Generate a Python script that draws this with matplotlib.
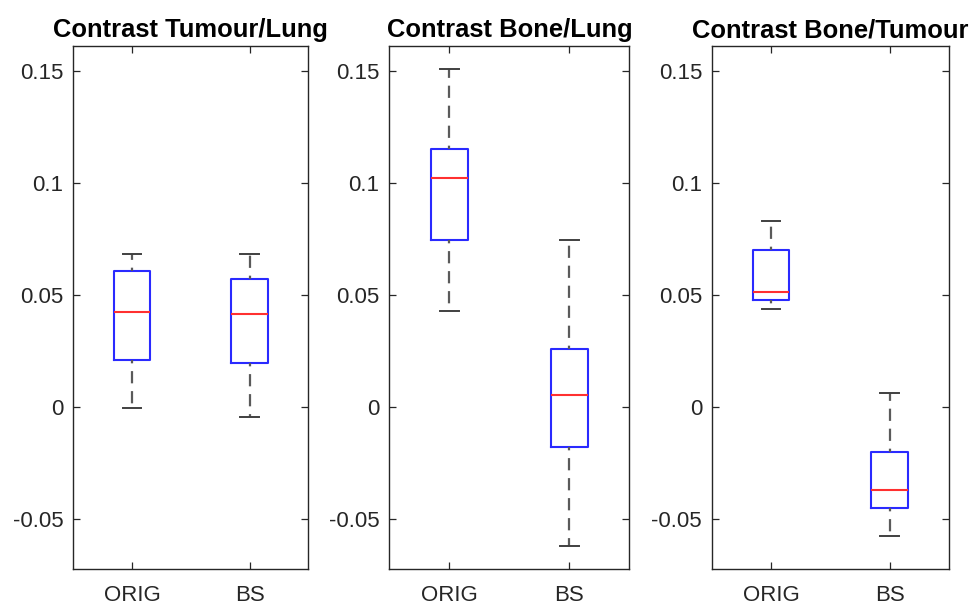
import matplotlib
matplotlib.use("Agg")
import matplotlib.pyplot as plt

plt.rcParams['font.family'] = ['Liberation Sans', 'DejaVu Sans']

titles = ["Contrast Tumour/Lung", "Contrast Bone/Lung", "Contrast Bone/Tumour"]
groups = ["ORIG", "BS"]
# per panel, per group: [whislo, q1, med, q3, whishi]
tumour_lung = [[-0.0007, 0.0209, 0.0423, 0.0605, 0.0682],
               [-0.0043, 0.0196, 0.0414, 0.0570, 0.0682]]
bone_lung = [[0.0428, 0.0747, 0.1020, 0.1150, 0.1510],
             [-0.0621, -0.0177, 0.0055, 0.0258, 0.0747]]
bone_tumour = [[0.0436, 0.0477, 0.0513, 0.0701, 0.0830],
               [-0.0577, -0.0452, -0.0371, -0.0201, 0.0063]]
panels = [tumour_lung, bone_lung, bone_tumour]
yticks = [-0.05, 0, 0.05, 0.1, 0.15]
yticklabels = ["-0.05", "0", "0.05", "0.1", "0.15"]

fig = plt.figure(figsize=(9.73, 6.04), dpi=100)
positions = [(0.0753, 0.2415), (0.4001, 0.2467), (0.7315, 0.2436)]
axc = '#262626'
for (left, w), title, data in zip(positions, titles, panels):
    ax = fig.add_axes([left, 0.0575, w, 0.8669])
    stats = []
    for g, d in zip(groups, data):
        stats.append(dict(label=g, whislo=d[0], q1=d[1], med=d[2], q3=d[3], whishi=d[4], fliers=[]))
    ax.bxp(stats, positions=[1, 2], widths=0.31, showfliers=False,
           boxprops=dict(color='#2a2aff', linewidth=1.5),
           medianprops=dict(color='#ff3030', linewidth=1.5),
           whiskerprops=dict(color='#5a5a5a', linewidth=1.6, linestyle=(4, (5.5, 3.5))),
           capprops=dict(color='#404040', linewidth=1.4))
    ax.set_xlim(0.5, 2.5)
    ax.set_ylim(-0.0725, 0.1613)
    ax.set_yticks(yticks)
    ax.set_yticklabels(yticklabels)
    ax.set_xticks([1, 2])
    ax.set_xticklabels(groups)
    ax.tick_params(direction='in', top=True, right=True, length=5, width=0.9,
                   colors=axc, labelsize=16, labelcolor=axc)
    ax.tick_params(axis='y', pad=7)
    ax.tick_params(axis='x', pad=11)
    for s in ax.spines.values():
        s.set_color(axc)
        s.set_linewidth(1.0)
    ax.set_title(title, fontsize=18.4, fontweight='bold', pad=6)

fig.savefig("out.png", dpi=100)
